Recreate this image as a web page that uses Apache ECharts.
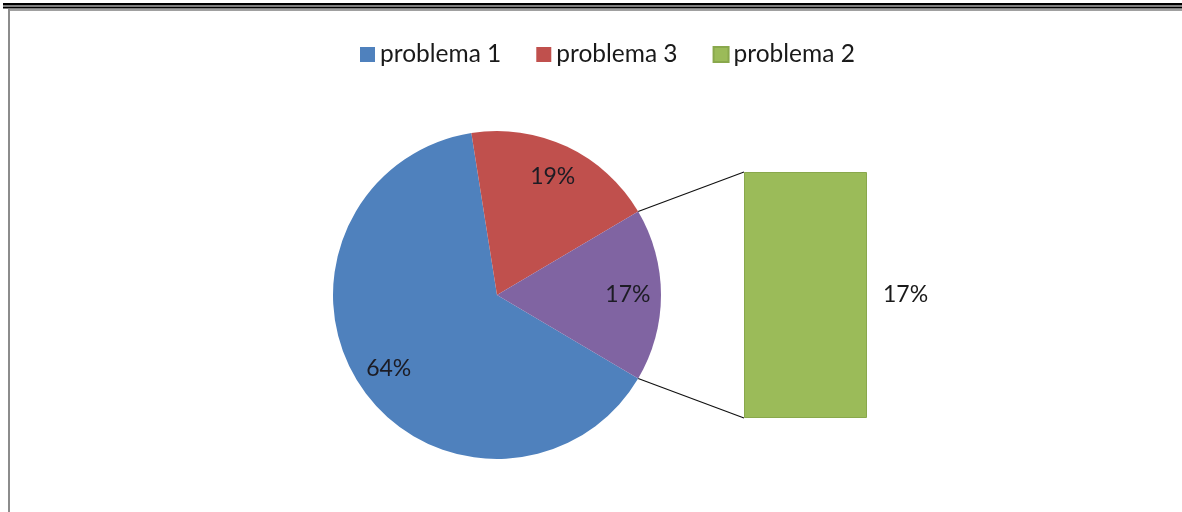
<!DOCTYPE html>
<html><head><meta charset="utf-8">
<script src="https://cdn.jsdelivr.net/npm/echarts@6/dist/echarts.min.js"></script>
<style>html,body{margin:0;padding:0;background:#fff}#c{width:1182px;height:512px}</style>
</head><body><div id="c"></div>
<script>
// ---- data ----
const pieNames = ['problema 1', 'problema 3', 'Otro'];
const pieValues = [64, 19, 17];
const barNames = ['problema 2'];
const barValues = [17];
const legendNames = ['problema 1', 'problema 3', 'problema 2'];

// ---- layout / style ----
const FONT = 'Lato';
const cx = 497, cy = 295, R = 164;
const grid = { left: 744, top: 172, width: 123, height: 246 };
const pieColors = ['#4f81bd', '#c0504d', '#8064a2'];
const barColor = '#9bbb59';

const pieTotal = pieValues.reduce((a, b) => a + b, 0);
const otherFrac = pieValues[pieValues.length - 1] / pieTotal;
// "other" slice centred at 3 o'clock; first slice starts right after it (clockwise)
const startCW = 90 + otherFrac * 180;          // clockwise from top
const startAngle = 90 - startCW;               // echarts convention
const upCW = (90 - otherFrac * 180) * Math.PI / 180;
const dnCW = startCW * Math.PI / 180;
const pUp = [cx + R * Math.sin(upCW), cy - R * Math.cos(upCW)];
const pDn = [cx + R * Math.sin(dnCW), cy - R * Math.cos(dnCW)];

const pieData = pieNames.map((n, i) => ({ name: n, value: pieValues[i], itemStyle: { color: pieColors[i] } }));
const pct = v => Math.round(v / pieTotal * 100) + '%';

const chart = echarts.init(document.getElementById('c'), null, { renderer: 'canvas' });
chart.setOption({
  animation: false,
  backgroundColor: '#fff',
  legend: {
    data: legendNames,
    top: 37, left: 355,
    itemWidth: 15, itemHeight: 15, itemGap: 35,
    icon: 'rect',
    textStyle: { fontFamily: FONT, fontSize: 24.5, color: '#1a1a1a' },
    selectedMode: false
  },
  grid: { left: grid.left, top: grid.top, width: grid.width, height: grid.height },
  xAxis: { type: 'category', data: barNames, show: false },
  yAxis: { type: 'value', min: 0, max: barValues.reduce((a, b) => a + b, 0), show: false },
  series: [
    {
      type: 'pie', name: 'pie', center: [cx, cy], radius: [0, R],
      startAngle: startAngle, clockwise: true,
      data: pieData, label: { show: false }, labelLine: { show: false },
      silent: true, emphasis: { disabled: true }
    },
    {
      type: 'pie', name: 'pieLabels', center: [cx, cy], radius: [R * 0.56, R],
      startAngle: startAngle, clockwise: true,
      data: pieNames.map((n, i) => ({ name: n, value: pieValues[i], itemStyle: { color: 'rgba(0,0,0,0)' } })),
      label: { show: true, position: 'inside', formatter: p => pct(p.value),
        fontFamily: FONT, fontSize: 23, color: '#1c1c24' },
      labelLine: { show: false }, silent: true, emphasis: { disabled: true }
    },
    {
      type: 'bar', name: barNames[0], data: barValues, barWidth: '100%',
      itemStyle: { color: barColor, borderColor: '#89a84c', borderWidth: 1 },
      label: { show: true, position: 'right', distance: 16, formatter: p => pct(p.value),
        fontFamily: FONT, fontSize: 23, color: '#1a1a1a' },
      silent: true
    }
  ],
  graphic: [
    { type: 'rect', shape: { x: 3, y: 3, width: 1179, height: 2.5 }, style: { fill: '#000' } },
    { type: 'rect', shape: { x: 3, y: 6.5, width: 1179, height: 2 }, style: { fill: '#000' } },
    { type: 'rect', shape: { x: 8, y: 9, width: 1174, height: 2 }, style: { fill: '#a0a0a0' } },
    { type: 'rect', shape: { x: 8, y: 9, width: 2, height: 503 }, style: { fill: '#8c8c8c' } },
    { type: 'line', shape: { x1: pUp[0], y1: pUp[1], x2: grid.left, y2: grid.top }, style: { stroke: '#111', lineWidth: 1.2 } },
    { type: 'line', shape: { x1: pDn[0], y1: pDn[1], x2: grid.left, y2: grid.top + grid.height }, style: { stroke: '#111', lineWidth: 1.2 } }
  ]
});
</script>
</body></html>
